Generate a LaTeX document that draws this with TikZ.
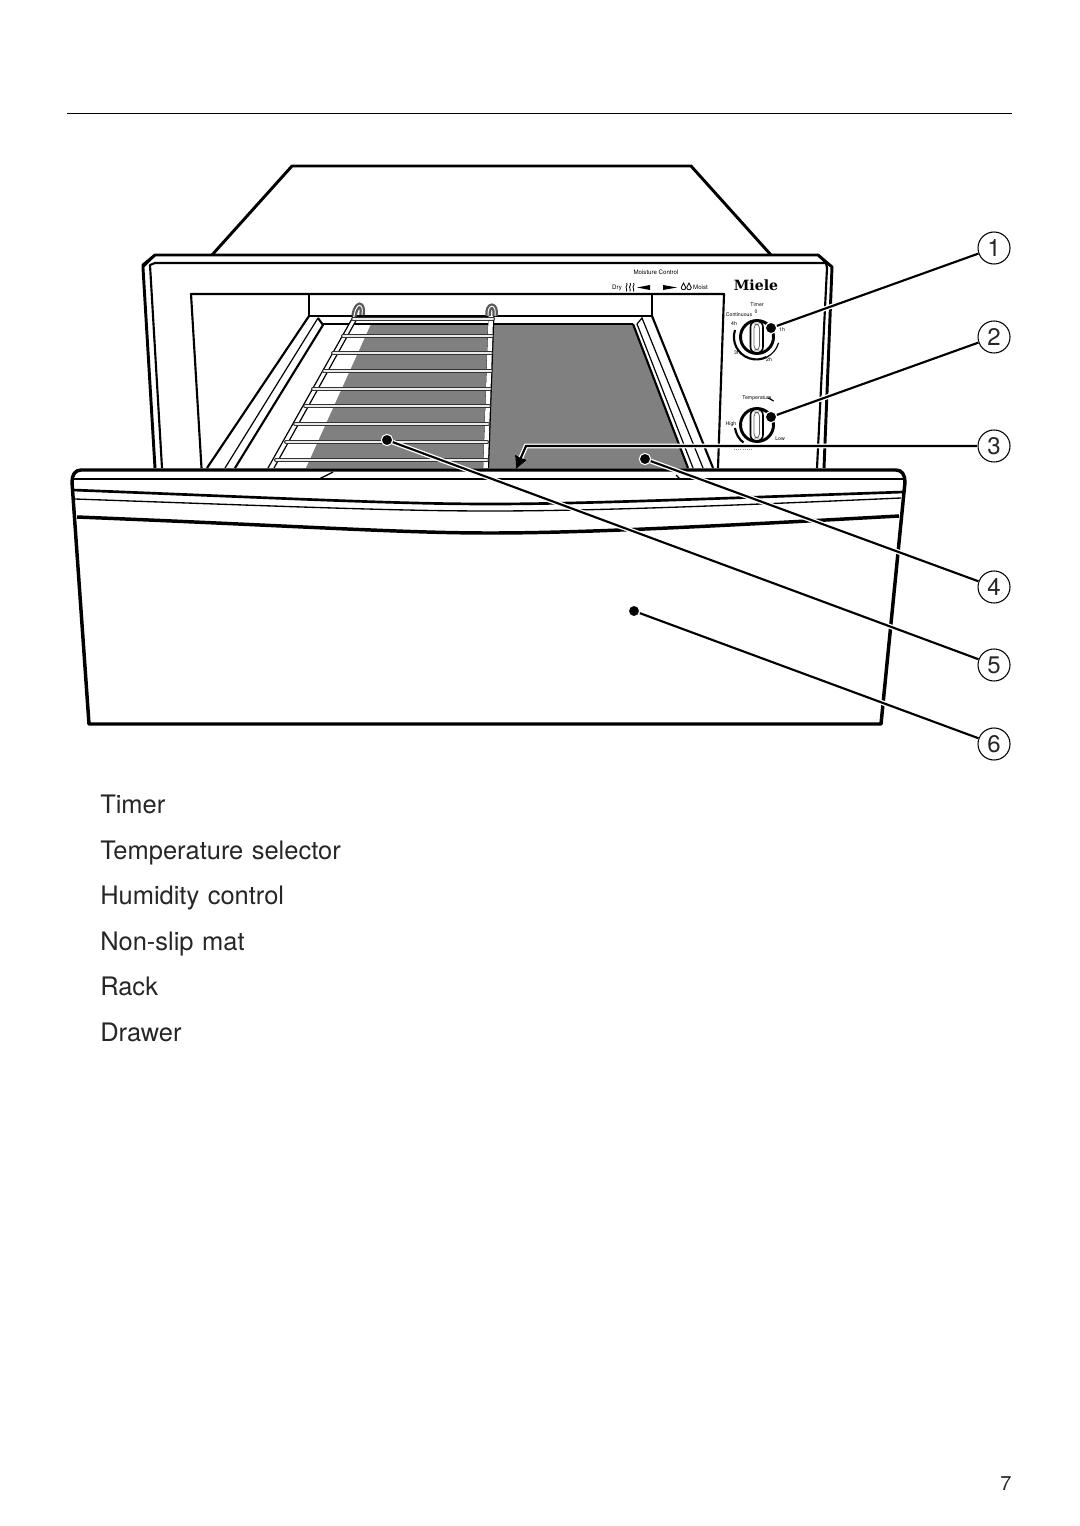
\documentclass[tikz,border=0pt]{standalone}
\usepackage{fontspec}
\setmainfont{TeX Gyre Heros}
\newfontfamily\logofont{DejaVu Serif}
\usetikzlibrary{positioning,arrows.meta}

\begin{document}
\begin{tikzpicture}[
  x=0.75pt, y=-0.75pt,
  >={Stealth[length=9.5pt,width=9.5pt,inset=0.6pt]},
  heavy/.style={line width=2.2pt, line join=round},
  medium/.style={line width=1.6pt, line join=round},
  fine/.style={line width=0.9pt},
  leader/.style={line width=1.6pt, preaction={draw=white, line width=3.6pt}},
  callout/.style={circle, fill=black, draw=white, line width=0.8pt, minimum size=8.5pt, inner sep=0pt},
  num/.style={circle, draw, line width=0.8pt, minimum size=24pt, inner sep=0pt, fill=white, text=black!85, font=\fontsize{18}{20}\selectfont},
  caption/.style={text width=300pt, inner sep=0pt, text height=14pt, text depth=4pt, text=black!85, font=\fontsize{19.1}{22}\selectfont},
  tag/.style={inner sep=0pt, font=\fontsize{3.9}{4.5}\selectfont},
  bigtag/.style={inner sep=0pt, font=\fontsize{4.6}{5}\selectfont},
  hookwire/.style={line width=1.7pt, draw=black!65, double=white, double distance=0.7pt}
]
\useasboundingbox (0,0) rectangle (1080,1526);

% ---------- page rule ----------
\draw[line width=0.75pt] (67,114) -- (1012,114);

% ---------- housing ----------
\draw[heavy] (212,255) -- (292,166) -- (691,166) -- (771,255);
\draw[heavy, fill=white] (155,468) -- (143,268) -- (143,265) -- (155,255) -- (818,255) -- (832,267) -- (824,468);
\draw[medium] (162,468) -- (150,265) -- (155,263) -- (826,263) -- (827,268) -- (817,468);
\draw[medium] (143,267) -- (155,255);
\draw[medium] (818,255) -- (827,264);

% ---------- oven opening ----------
\draw[medium] (201.5,468) -- (191,294) -- (724,294) -- (718,468);
\draw[medium] (309,294) -- (309,316) -- (652,316) -- (652,294);
\fill[black!50] (371,324) -- (633,324) -- (688,468) -- (306,468) -- cycle;
\draw[medium] (207,468) -- (309,316);
\draw[fine] (225,468) -- (318,318);
\draw[medium] (235,468) -- (323,325) -- (318,318);
\draw[medium] (323,324) -- (633,324);
\draw[medium] (688,468) -- (633,324);
\draw[fine] (693,468) -- (637,324);
\draw[fine] (703,468) -- (642,318) -- (637,324);
\draw[medium] (713,468) -- (652,316);

% ---------- rack ----------
\draw[line width=3.6pt, white] (355.5,317) -- (271,468);
\draw[line width=0.9pt] (353,317) -- (268,468);
\draw[line width=0.9pt] (358,317) -- (274,468);
\draw[line width=4.6pt, black] (491.5,312) -- (486,468);
\draw[line width=3.4pt, white] (491,312) -- (485.5,468);
\draw[hookwire] (354,316) .. controls (356,302) and (364,302) .. (362,315);
\draw[hookwire] (488,316) .. controls (487,303) and (497,303) .. (495,316);
\foreach \lx/\ry/\rx in {353/319/493, 343/336/492, 333/353/491, 324/371/491, 313/389/490, 305/406/489, 295/424/488, 286/442/487, 276/460/487}{
  \draw[line width=3pt, black!80, line cap=round] (\lx,\ry) -- (\rx,\ry);
  \draw[line width=1.5pt, black!8, line cap=round] (\lx,\ry-0.4) -- (\rx,\ry-0.4);
}

% ---------- control panel ----------
\node[bigtag] (lblMoist) at (656,272) {Moisture Control};
\node[bigtag] (lblDry) at (617,287.5) {Dry};
\node[bigtag] (lblWet) at (700.5,287.5) {Moist};
\node[inner sep=0pt, font=\logofont\bfseries\fontsize{10.6}{11}\selectfont] (logo) at (756,285) {Miele};
\foreach \sx in {626.5,630,633.5}{
  \draw[line width=0.6pt] (\sx,283) .. controls (\sx+2,285) and (\sx-2,287) .. (\sx,288.5) .. controls (\sx+1.5,289.5) and (\sx-1,290.5) .. (\sx,291.5);
}
\fill (637,287.5) -- (650,285) -- (650,290) -- cycle;
\fill (677,287.5) -- (663,285) -- (663,290) -- cycle;
\foreach \sx in {683.5,689}{
  \draw[line width=0.6pt] (\sx,283) -- (\sx+2.3,287.5) arc[start angle=0, end angle=180, radius=2.3] -- cycle;
}
\node[tag] (lblTimer) at (757,305) {Timer};
\node[tag] (lblZero) at (756,312) {0};
\node[tag] (lblCont) at (739,315) {Continuous};
\node[tag] (lblFour) at (734,324) {4h};
\node[tag] (lblOne) at (782,330) {1h};
\node[tag] (lblThree) at (737,353) {3h};
\node[tag] (lblTwo) at (769,360) {2h};
\node[tag] (lblTemp) at (757,398) {Temperature};
\node[tag] (lblHigh) at (731,424) {High};
\node[tag] (lblLow) at (780,439) {Low};
\draw[line width=0.6pt, black!45, densely dotted] (734,449) -- (752,449);

% two selector knobs
\foreach \ky in {337,425}{
  \draw[heavy, fill=white] (757,\ky) circle [radius=16.5];
  \draw[line width=1.2pt, rounded corners=4.5pt] (750.5,\ky-16) rectangle (763,\ky+16);
  \draw[line width=0.6pt, black!60, rounded corners=3pt] (754,\ky-13) rectangle (759.5,\ky+13);
}
\draw[medium] (735,330) arc [start angle=198, end angle=63, radius=22.5];
\draw[fine] (767,357) arc [start angle=63, end angle=15, radius=22.5];
\draw[medium] (735,428) arc [start angle=172, end angle=128, radius=22.5];
\draw[fine] (768,398) arc [start angle=-68, end angle=-55, radius=28];

% ---------- drawer ----------
\draw[heavy, line width=2.6pt, fill=white] (89,724) -- (72,482) .. controls (72,475) and (75,470) .. (81,470)
  -- (896,470) .. controls (902,470) and (905,475) .. (905,482) -- (881,724) -- cycle;
\draw[medium] (72,479) -- (905,479);
\draw[line width=1pt] (319,479) -- (333,472);
\draw[line width=1pt] (680,479) -- (676,475);
\draw[line width=2pt] (73,490) .. controls (300,499) and (400,504) .. (490,504) .. controls (580,504) and (700,499) .. (903,492);
\draw[line width=1pt] (75,499) .. controls (300,507) and (400,511) .. (490,511) .. controls (580,511) and (700,507) .. (901,498);
\draw[line width=2.6pt] (77,517) .. controls (300,526) and (400,533) .. (490,533) .. controls (580,533) and (700,527) .. (899,516);

% ---------- callouts ----------
\node[num] (nTimer) at (994,248) {1};
\node[num] (nTemp) at (994,337) {2};
\node[num] (nHumid) at (994,446) {3};
\node[num] (nMat) at (994,587) {4};
\node[num] (nRack) at (994,665) {5};
\node[num] (nDrawer) at (994,744) {6};

\node[callout] (dTimer) at (771,328) {};
\node[callout] (dTemp) at (771,417) {};
\node[callout] (dMat) at (645,459) {};
\node[callout] (dRack) at (387,440) {};
\node[callout] (dDrawer) at (634,611) {};
\coordinate (bendHumid) at (526,446);
\coordinate (tipHumid) at (516,469);

\draw[leader] (dTimer) -- (nTimer);
\draw[leader] (dTemp) -- (nTemp);
\draw[leader, ->] (nHumid) -- (bendHumid) -- (tipHumid);
\draw[leader] (dMat) -- (nMat);
\draw[leader] (dRack) -- (nRack);
\draw[leader] (dDrawer) -- (nDrawer);

% ---------- captions ----------
\node[caption, anchor=west] (capTimer) at (100,807) {Timer};
\node[caption, below=15.75pt of capTimer] (capTemp) {Temperature selector};
\node[caption, below=15.75pt of capTemp] (capHumid) {Humidity control};
\node[caption, below=15.75pt of capHumid] (capMat) {Non-slip mat};
\node[caption, below=15.75pt of capMat] (capRack) {Rack};
\node[caption, below=15.75pt of capRack] (capDrawer) {Drawer};
\node[inner sep=0pt, font=\fontsize{15}{18}\selectfont, text=black!85] (pageNo) at (1006,1484) {7};
\end{tikzpicture}
\end{document}
